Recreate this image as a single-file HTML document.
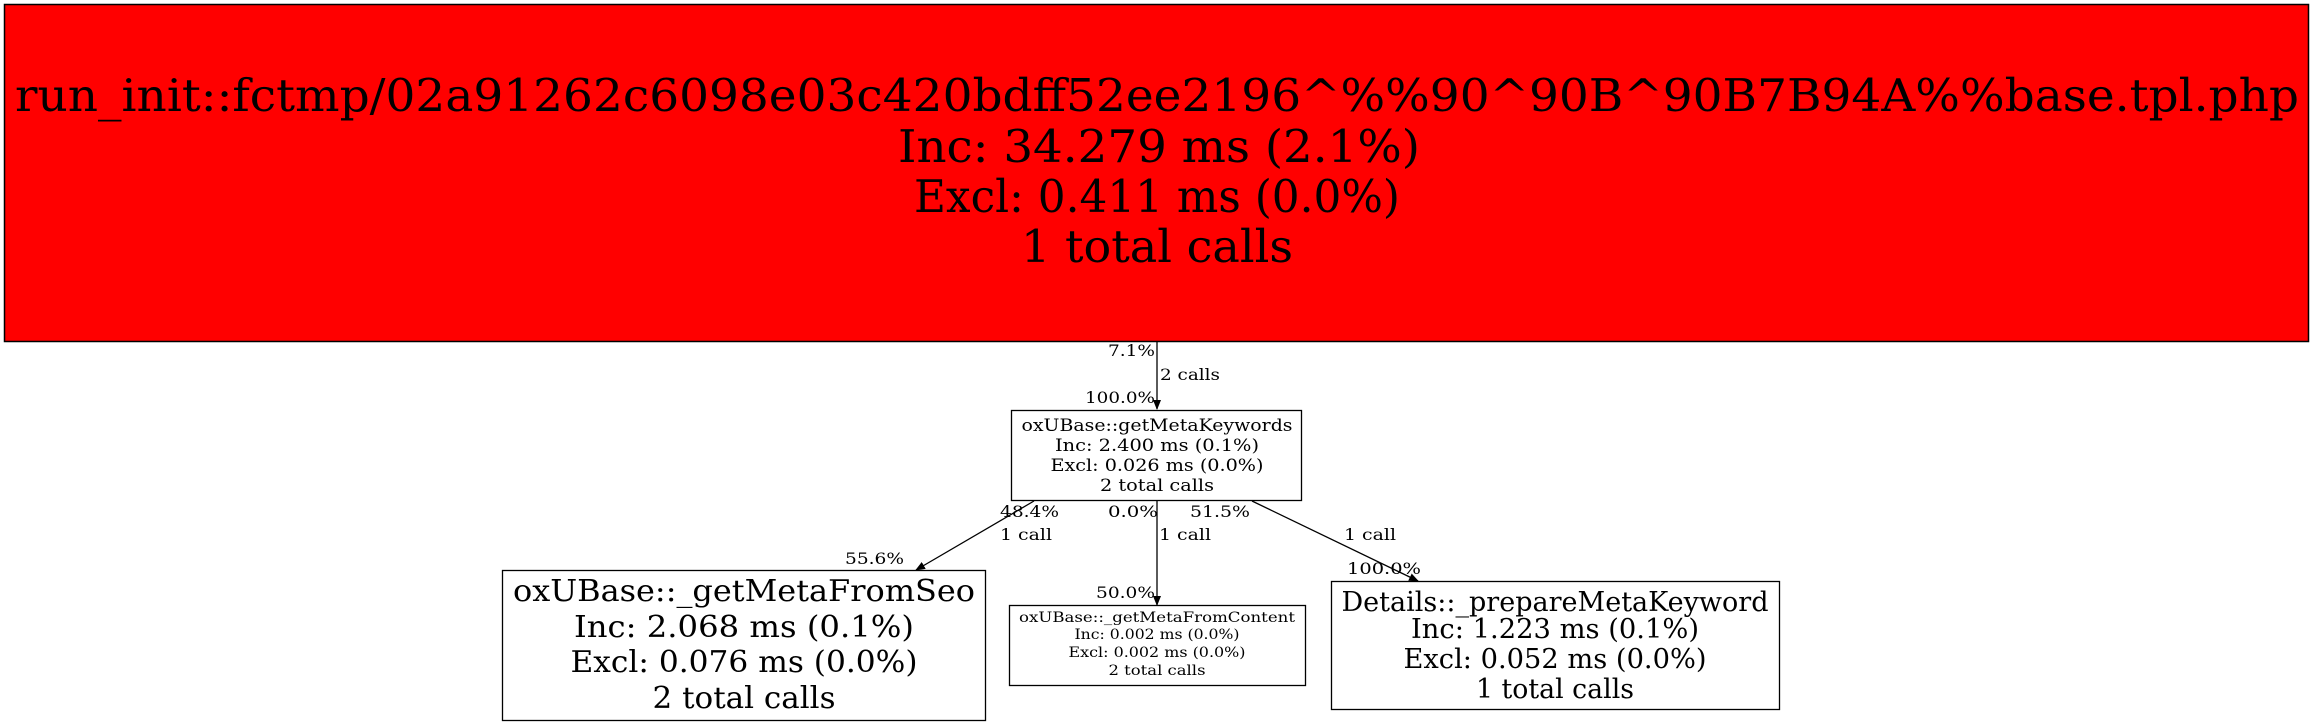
<!DOCTYPE html>
<html><head><meta charset="utf-8"><style>
html,body{margin:0;padding:0;background:#fff;}
svg{display:block;font-family:"DejaVu Serif","Liberation Serif",serif;}
</style></head><body>
<svg width="2315" height="725" viewBox="0 0 2315 725" xmlns="http://www.w3.org/2000/svg">
<defs><marker id="a" markerWidth="10" markerHeight="10" refX="9" refY="5" orient="auto" markerUnits="userSpaceOnUse"><path d="M0,1 L10,5 L0,9 z" fill="#000"/></marker></defs>
<rect x="4.5" y="4.5" width="2304" height="337" fill="#ff0000" stroke="#000" stroke-width="1.5"/>
<g text-anchor="middle" font-size="45">
<text x="1157" y="111" textLength="2284" lengthAdjust="spacingAndGlyphs">run_init::fctmp/02a91262c6098e03c420bdff52ee2196^%%90^90B^90B7B94A%%base.tpl.php</text>
<text x="1159" y="162" textLength="522" lengthAdjust="spacingAndGlyphs">Inc: 34.279 ms (2.1%)</text>
<text x="1157" y="212" textLength="486" lengthAdjust="spacingAndGlyphs">Excl: 0.411 ms (0.0%)</text>
<text x="1157" y="262" textLength="272" lengthAdjust="spacingAndGlyphs">1 total calls</text>
</g>
<g stroke="#000" stroke-width="1.3" fill="none">
<line x1="1157" y1="342" x2="1157" y2="409" marker-end="url(#a)"/>
<line x1="1034" y1="501" x2="916" y2="570" marker-end="url(#a)"/>
<line x1="1157" y1="501" x2="1157" y2="605" marker-end="url(#a)"/>
<line x1="1252" y1="501" x2="1418" y2="581" marker-end="url(#a)"/>
</g>
<rect x="1011.5" y="410.5" width="290" height="90" fill="#fff" stroke="#000" stroke-width="1.3"/>
<g text-anchor="middle" font-size="17">
<text x="1157" y="431" textLength="271" lengthAdjust="spacingAndGlyphs">oxUBase::getMetaKeywords</text>
<text x="1157" y="451" textLength="204" lengthAdjust="spacingAndGlyphs">Inc: 2.400 ms (0.1%)</text>
<text x="1157" y="471" textLength="213" lengthAdjust="spacingAndGlyphs">Excl: 0.026 ms (0.0%)</text>
<text x="1157" y="491" textLength="114" lengthAdjust="spacingAndGlyphs">2 total calls</text>
</g>
<rect x="502.5" y="570.5" width="483" height="150" fill="#fff" stroke="#000" stroke-width="1.3"/>
<g text-anchor="middle" font-size="30">
<text x="744" y="601" textLength="462" lengthAdjust="spacingAndGlyphs">oxUBase::_getMetaFromSeo</text>
<text x="744" y="637" textLength="340" lengthAdjust="spacingAndGlyphs">Inc: 2.068 ms (0.1%)</text>
<text x="744" y="672" textLength="347" lengthAdjust="spacingAndGlyphs">Excl: 0.076 ms (0.0%)</text>
<text x="744" y="708" textLength="183" lengthAdjust="spacingAndGlyphs">2 total calls</text>
</g>
<rect x="1009.5" y="605.5" width="296" height="80" fill="#fff" stroke="#000" stroke-width="1.3"/>
<g text-anchor="middle" font-size="14">
<text x="1157" y="622" textLength="276" lengthAdjust="spacingAndGlyphs">oxUBase::_getMetaFromContent</text>
<text x="1157" y="639" textLength="165" lengthAdjust="spacingAndGlyphs">Inc: 0.002 ms (0.0%)</text>
<text x="1157" y="657" textLength="177" lengthAdjust="spacingAndGlyphs">Excl: 0.002 ms (0.0%)</text>
<text x="1157" y="675" textLength="97" lengthAdjust="spacingAndGlyphs">2 total calls</text>
</g>
<rect x="1331.5" y="581.5" width="448" height="128" fill="#fff" stroke="#000" stroke-width="1.3"/>
<g text-anchor="middle" font-size="27">
<text x="1555" y="611" textLength="427" lengthAdjust="spacingAndGlyphs">Details::_prepareMetaKeyword</text>
<text x="1555" y="638" textLength="288" lengthAdjust="spacingAndGlyphs">Inc: 1.223 ms (0.1%)</text>
<text x="1555" y="668" textLength="303" lengthAdjust="spacingAndGlyphs">Excl: 0.052 ms (0.0%)</text>
<text x="1555" y="698" textLength="158" lengthAdjust="spacingAndGlyphs">1 total calls</text>
</g>
<g font-size="16">
<text x="1155" y="356" text-anchor="end" textLength="47" lengthAdjust="spacingAndGlyphs">7.1%</text>
<text x="1160" y="380" textLength="60" lengthAdjust="spacingAndGlyphs">2 calls</text>
<text x="1155" y="403" text-anchor="end" textLength="70" lengthAdjust="spacingAndGlyphs">100.0%</text>
<text x="1059" y="517" text-anchor="end" textLength="59" lengthAdjust="spacingAndGlyphs">48.4%</text>
<text x="1158" y="517" text-anchor="end" textLength="50" lengthAdjust="spacingAndGlyphs">0.0%</text>
<text x="1250" y="517" text-anchor="end" textLength="60" lengthAdjust="spacingAndGlyphs">51.5%</text>
<text x="1000" y="540" textLength="52" lengthAdjust="spacingAndGlyphs">1 call</text>
<text x="1159" y="540" textLength="52" lengthAdjust="spacingAndGlyphs">1 call</text>
<text x="1344" y="540" textLength="52" lengthAdjust="spacingAndGlyphs">1 call</text>
<text x="904" y="564" text-anchor="end" textLength="59" lengthAdjust="spacingAndGlyphs">55.6%</text>
<text x="1155" y="598" text-anchor="end" textLength="59" lengthAdjust="spacingAndGlyphs">50.0%</text>
<text x="1421" y="574" text-anchor="end" textLength="74" lengthAdjust="spacingAndGlyphs">100.0%</text>
</g>
</svg>
</body></html>
